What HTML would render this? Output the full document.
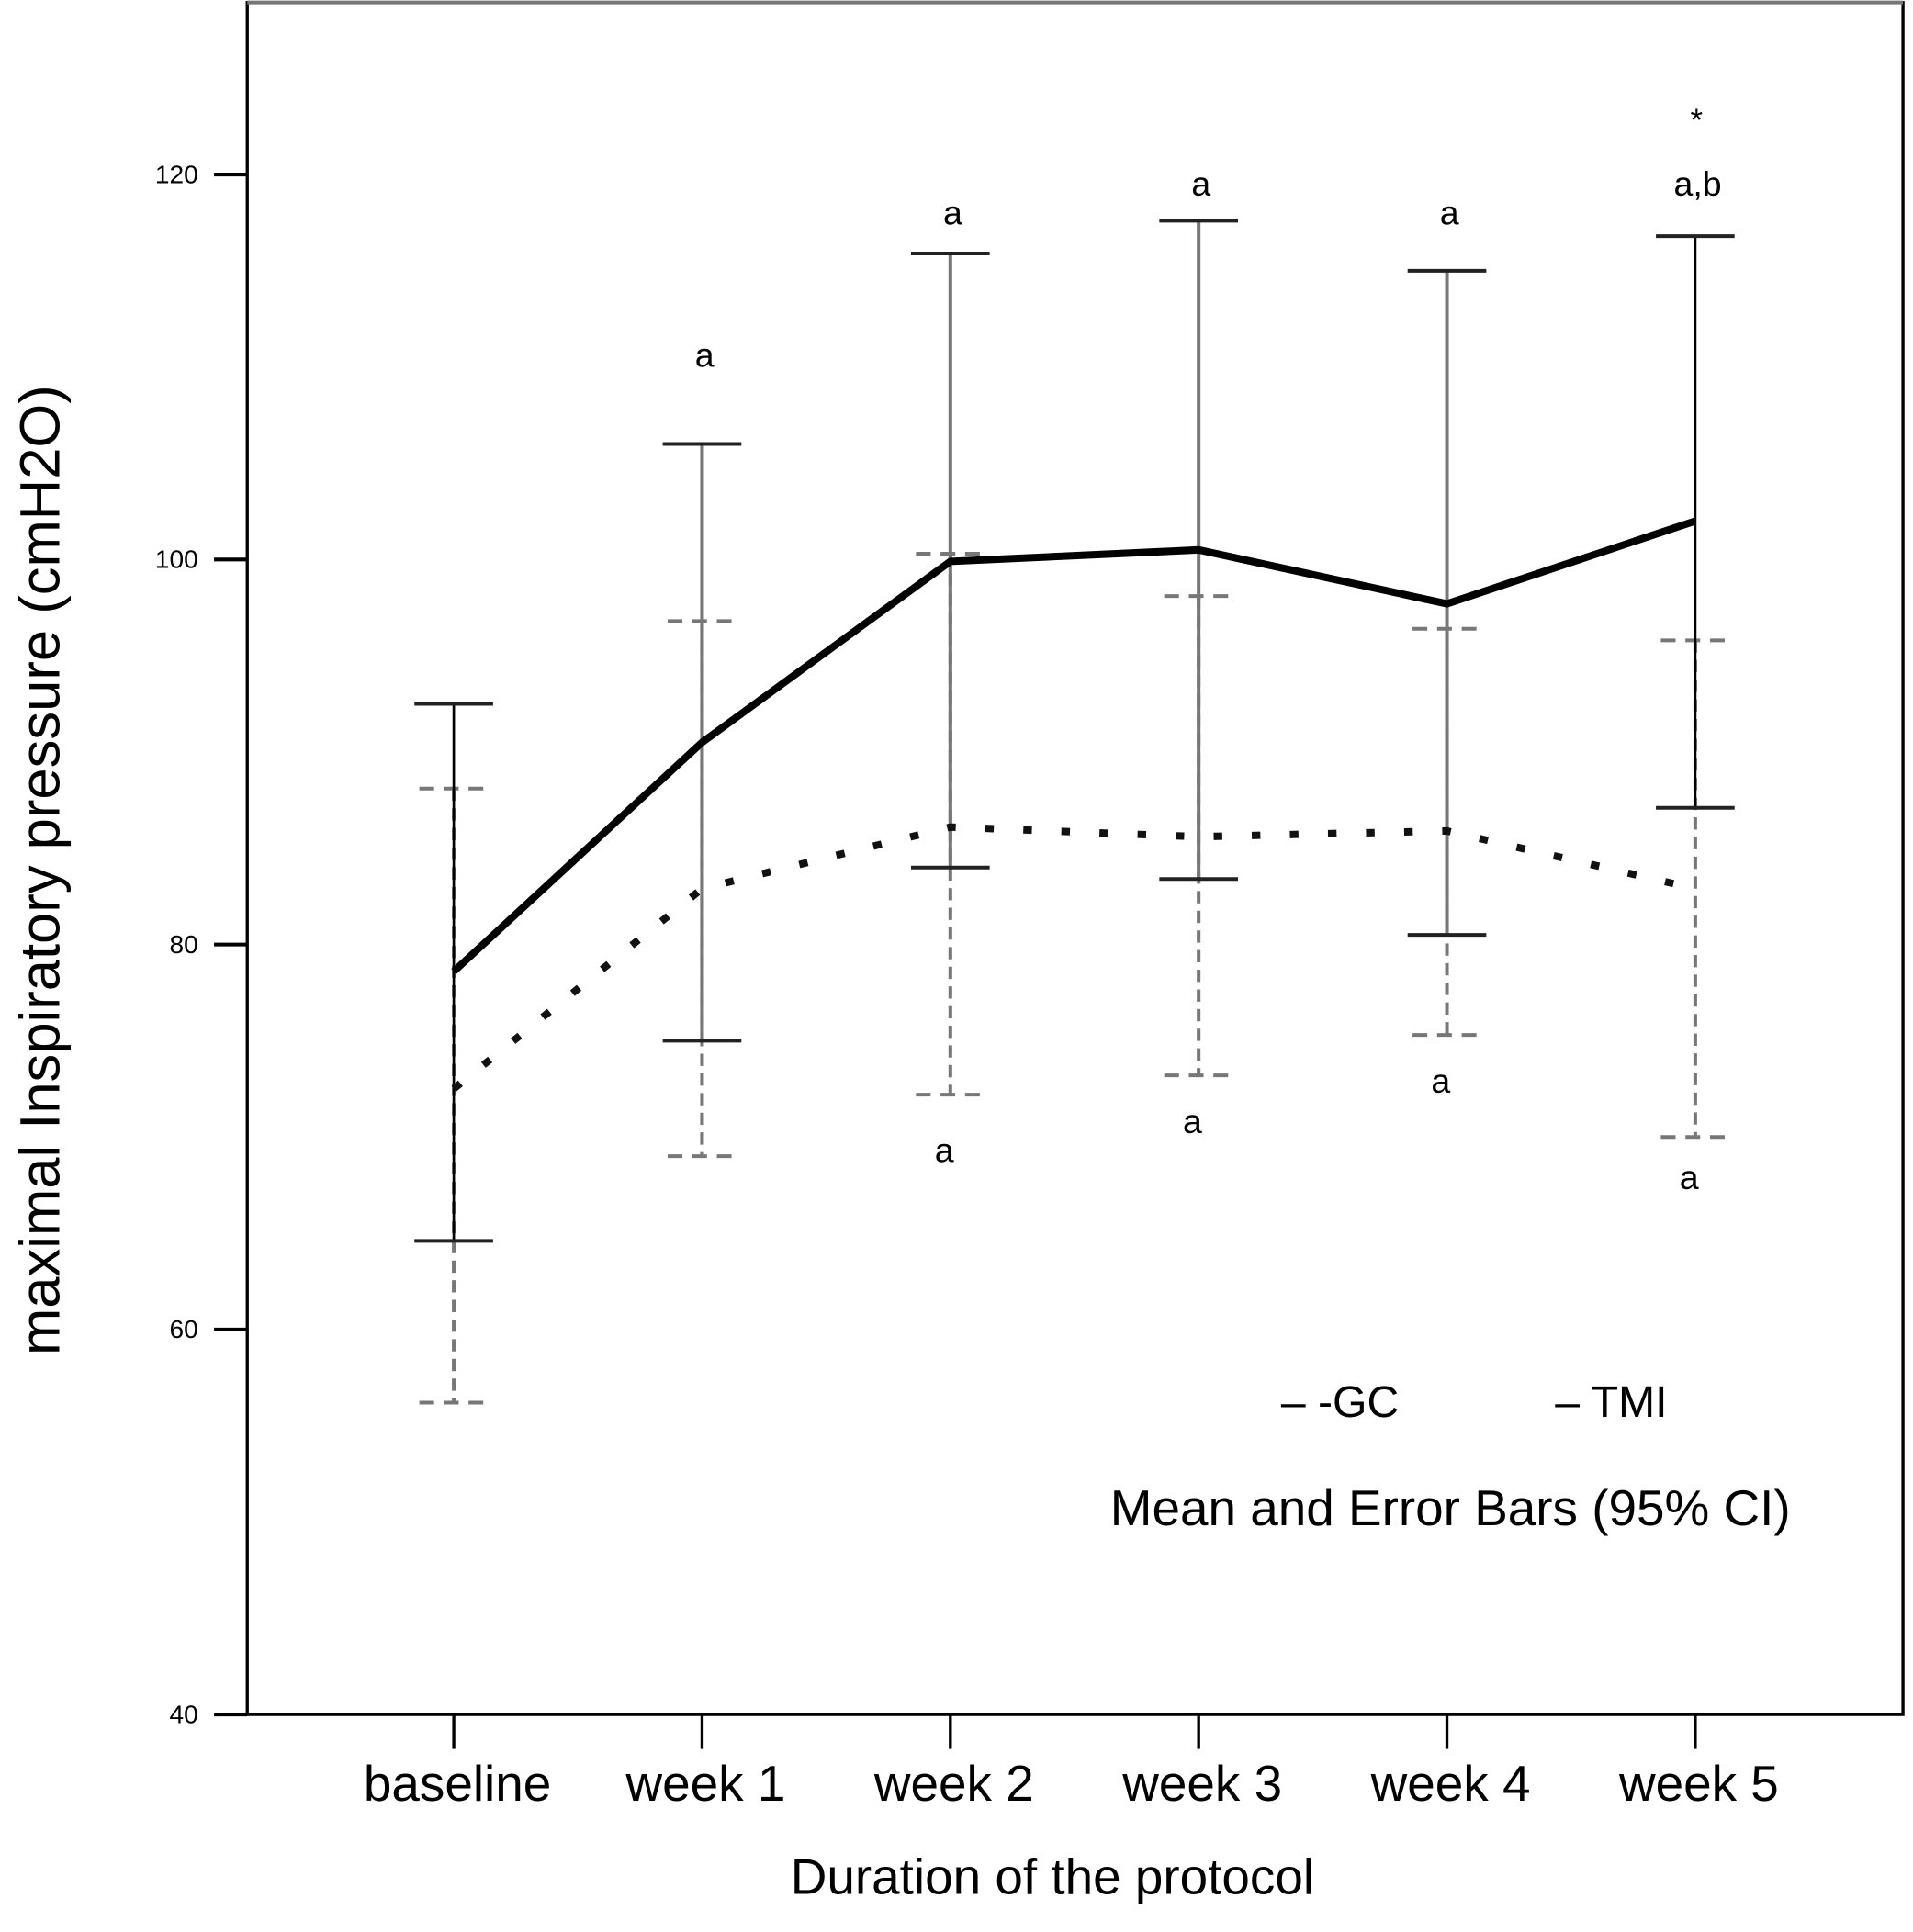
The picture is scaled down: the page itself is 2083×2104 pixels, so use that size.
<!DOCTYPE html>
<html><head><meta charset="utf-8"><style>
html,body{margin:0;padding:0;background:#fff}
svg{display:block}
text{font-family:"Liberation Sans",Arial,sans-serif;fill:#000}
</style></head><body>
<svg id="chart" width="2083" height="2104" viewBox="0 0 1556 1572" xmlns="http://www.w3.org/2000/svg">
<rect x="0" y="0" width="1556" height="1572" fill="#fff"/>
<g id="plot"></g>
</svg>
<script>
const categories = ["baseline","week 1","week 2","week 3","week 4","week 5"];
const tmiMean = [78.6, 90.5, 99.9, 100.5, 97.7, 102.0];
const tmiUpper = [92.5, 106.0, 115.9, 117.6, 115.0, 116.8];
const tmiLower = [64.6, 75.0, 84.0, 83.4, 80.5, 87.1];
const gcMean = [72.5, 82.9, 86.1, 85.6, 85.9, 82.9];
const gcUpper = [88.1, 96.8, 100.3, 98.1, 96.4, 95.8];
const gcLower = [56.2, 69.0, 72.2, 73.2, 75.3, 70.0];
const yTicks = [40, 60, 80, 100, 120];
const topLabels = ["", "a", "a", "a", "a", "a,b"];
const topLabelAt = [0, 110.0, 117.4, 118.9, 117.4, 118.9];
const bottomLabels = ["", "", "a", "a", "a", "a"];
const bottomLabelAt = [0, 0, 68.7, 70.2, 72.3, 67.3];

const NS = "http://www.w3.org/2000/svg";
const g = document.getElementById('plot');
const L = 201, R = 1548, T = 2, B = 1395;
const x0 = 369, dx = 202;
function xScale(i){ return x0 + i*dx; }
function yScale(v){ return B - (v-40)*(B-142)/80; }
function mk(tag, attrs, parent){
  const e = document.createElementNS(NS, tag);
  for (const k in attrs) e.setAttribute(k, attrs[k]);
  (parent||g).appendChild(e);
  return e;
}
let fr = mk('rect',{x:L,y:T,width:R-L,height:B-T,fill:'none',stroke:'#000','stroke-width':2.5});


mk('line',{x1:L,y1:T,x2:R,y2:T,stroke:'#777','stroke-width':3});
yTicks.forEach(v=>{
  const y = yScale(v);
  let t = mk('line',{x1:L-27,y1:y,x2:L,y2:y,stroke:'#000','stroke-width':3});
  
  
  let tx = mk('text',{x:L-40,y:y+7,'font-size':21,'text-anchor':'end'});
  tx.textContent = v;
  
  
});
categories.forEach((c,i)=>{
  const x = xScale(i);
  let t = mk('line',{x1:x,y1:B,x2:x,y2:B+28,stroke:'#000','stroke-width':2.5});
  
  
  let tx = mk('text',{x:x+3,y:B+70,'font-size':41,'text-anchor':'middle'});
  tx.textContent = c;
  
  
});
categories.forEach((c,i)=>{
  const x = xScale(i);
  let l = mk('line',{x1:x,y1:yScale(gcUpper[i]),x2:x,y2:yScale(gcLower[i]),stroke:'#777','stroke-width':3,'stroke-dasharray':'10 6'});
  
  
  [gcUpper[i],gcLower[i]].forEach(v=>{
    let cp = mk('line',{x1:x-28,y1:yScale(v),x2:x+28,y2:yScale(v),stroke:'#777','stroke-width':3,'stroke-dasharray':'12 8'});
    
    
  });
});
categories.forEach((c,i)=>{
  const x = xScale(i);
  let l = mk('line',{x1:x,y1:yScale(tmiUpper[i]),x2:x,y2:yScale(tmiLower[i]),stroke:(i==0||i==5)?'#000':'#777','stroke-width':(i==0||i==5)?2:3});
  
  
  [tmiUpper[i],tmiLower[i]].forEach(v=>{
    let cp = mk('line',{x1:x-32,y1:yScale(v),x2:x+32,y2:yScale(v),stroke:'#222','stroke-width':3});
    
    
  });
});
let gp = mk('polyline',{points:gcMean.map((v,i)=>xScale(i)+','+yScale(v)).join(' '),fill:'none',stroke:'#111','stroke-width':6,'stroke-dasharray':'7 24'});


let tp = mk('polyline',{points:tmiMean.map((v,i)=>xScale(i)+','+yScale(v)).join(' '),fill:'none',stroke:'#000','stroke-width':6,'stroke-linejoin':'miter'});


categories.forEach((c,i)=>{
  const x = xScale(i);
  if (topLabels[i]) {
    let a = mk('text',{x:x+2,y:yScale(topLabelAt[i]),'font-size':28,'text-anchor':'middle'});
    a.textContent = topLabels[i];
    
    
  }
  if (bottomLabels[i]) {
    let a = mk('text',{x:x-5,y:yScale(bottomLabelAt[i]),'font-size':28,'text-anchor':'middle'});
    a.textContent = bottomLabels[i];
    
    
  }
});
let st = mk('text',{x:1380,y:107,'font-size':26,'text-anchor':'middle'});
st.textContent = '*';


let lg1 = mk('text',{x:1042,y:1153,'font-size':36});
lg1.textContent = '– -GC';


let lg2 = mk('text',{x:1265,y:1153,'font-size':36});
lg2.textContent = '– TMI';


let lg3 = mk('text',{x:903,y:1241,'font-size':41});
lg3.textContent = 'Mean and Error Bars (95% CI)';


let xt = mk('text',{x:856,y:1541,'font-size':41,'text-anchor':'middle'});
xt.textContent = 'Duration of the protocol';


let yt = mk('text',{x:0,y:0,'font-size':46,'text-anchor':'middle',transform:'translate(48,708) rotate(-90)'});
yt.textContent = 'maximal Inspiratory pressure (cmH2O)';


</script>
</body></html>
